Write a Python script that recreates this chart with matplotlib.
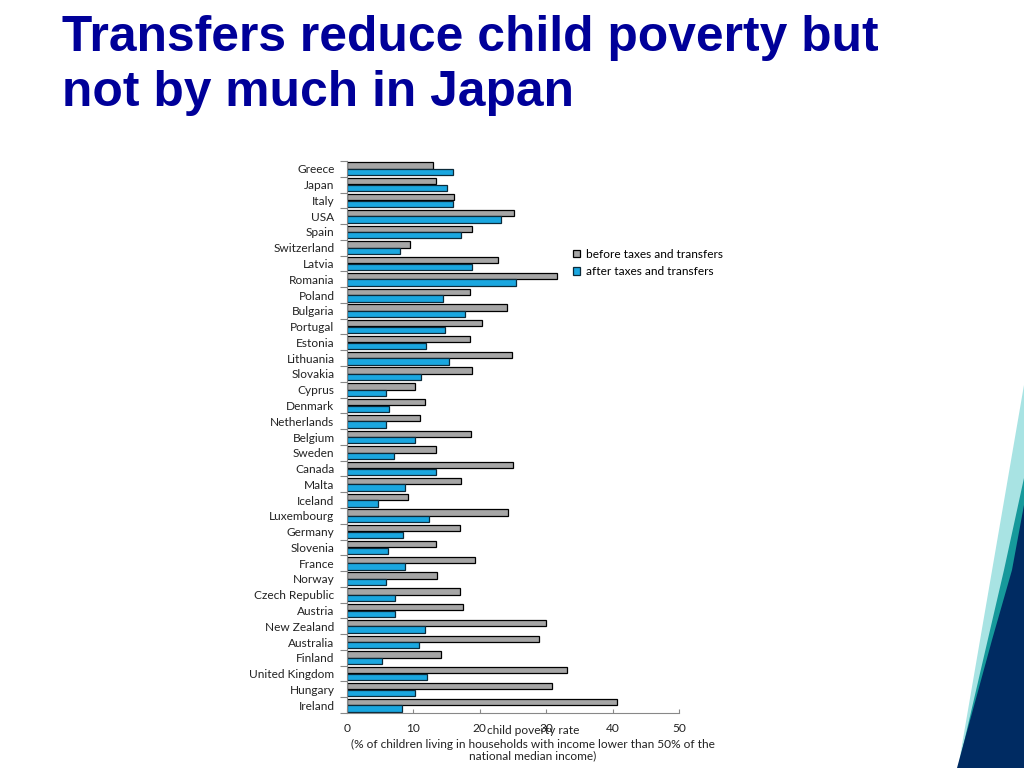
import matplotlib.pyplot as plt
from matplotlib.patches import Polygon
import numpy as np

countries = ['Greece', 'Japan', 'Italy', 'USA', 'Spain', 'Switzerland', 'Latvia',
             'Romania', 'Poland', 'Bulgaria', 'Portugal', 'Estonia', 'Lithuania',
             'Slovakia', 'Cyprus', 'Denmark', 'Netherlands', 'Belgium', 'Sweden',
             'Canada', 'Malta', 'Iceland', 'Luxembourg', 'Germany', 'Slovenia',
             'France', 'Norway', 'Czech Republic', 'Austria', 'New Zealand',
             'Australia', 'Finland', 'United Kingdom', 'Hungary', 'Ireland']
before = [13.0, 13.4, 16.1, 25.2, 18.9, 9.5, 22.7, 31.7, 18.5, 24.1, 20.4, 18.5,
          24.8, 18.9, 10.2, 11.7, 11.0, 18.7, 13.4, 25.0, 17.1, 9.2, 24.3, 17.0,
          13.4, 19.3, 13.5, 17.0, 17.4, 29.9, 28.9, 14.2, 33.2, 30.9, 40.7]
after = [16.0, 15.0, 16.0, 23.2, 17.1, 8.0, 18.9, 25.5, 14.5, 17.7, 14.8, 11.9,
         15.4, 11.1, 5.9, 6.4, 5.9, 10.3, 7.1, 13.4, 8.7, 4.6, 12.3, 8.4,
         6.2, 8.8, 5.9, 7.2, 7.2, 11.7, 10.8, 5.2, 12.1, 10.3, 8.3]
xticks = [0, 10, 20, 30, 40, 50]

font = 'Lato'
fs = 8.6
tc = '#222222'
fig = plt.figure(figsize=(10.24, 7.68), dpi=100)
fig.patch.set_facecolor('white')

# title
navy = '#000099'
fig.text(62/1024, 1-51/768, 'Transfers reduce child poverty but', fontsize=35.8,
         fontweight='bold', color=navy, family='Liberation Sans', va='baseline')
fig.text(62/1024, 1-106/768, 'not by much in Japan', fontsize=35.8,
         fontweight='bold', color=navy, family='Liberation Sans', va='baseline')

ax = fig.add_axes([347/1024, 1-713/768, 332/1024, 552/768])
y = np.arange(len(countries))
h = 0.4
ax.barh(y - 0.21, before, height=h, color='#A6A6A6', edgecolor='black',
        linewidth=0.9, label='before taxes and transfers')
ax.barh(y + 0.21, after, height=h, color='#1AA7E0', edgecolor='#0b2a3a',
        linewidth=0.9, label='after taxes and transfers')
ax.set_ylim(len(countries) - 0.5, -0.5)
ax.set_xlim(0, 50)
ax.set_yticks(y)
ax.set_yticklabels(countries, family=font, fontsize=fs, color=tc)
ax.set_yticks(np.arange(len(countries) + 1) - 0.5, minor=True)
ax.tick_params(axis='y', which='major', length=0, pad=9)
ax.tick_params(axis='y', which='minor', length=5, color='#888888', width=0.8)
ax.set_xticks(xticks)
ax.set_xticklabels([str(t) for t in xticks], family=font, fontsize=fs, color=tc)
ax.tick_params(axis='x', length=3, direction='in', color='#888888', pad=7)
for s in ['top', 'right']:
    ax.spines[s].set_visible(False)
for s in ['left', 'bottom']:
    ax.spines[s].set_color('#888888')
    ax.spines[s].set_linewidth(0.8)

fig.text(533/1024, 1-731/768, 'child poverty rate', ha='center', va='center',
         family=font, fontsize=fs, color=tc)
fig.text(533/1024, 1-744/768,
         '(% of children living in households with income lower than 50% of the',
         ha='center', va='center', family=font, fontsize=fs, color=tc)
fig.text(533/1024, 1-756/768, 'national median income)', ha='center', va='center',
         family=font, fontsize=fs, color=tc)

ax.legend(loc='upper left', bbox_to_anchor=(562/1024, 1-238/768),
          bbox_transform=fig.transFigure, frameon=False, prop={'family': font, 'size': fs},
          handlelength=0.6, handleheight=0.6, handletextpad=0.5, labelspacing=0.55)

# slide decoration on the right edge
W, H = 1024, 768
def poly(pts, c):
    fig.patches.append(Polygon([(px/W, 1-py/H) for px, py in pts], closed=True,
                               transform=fig.transFigure, facecolor=c, edgecolor='none'))
poly([(1024, 385), (1024, 768), (958, 768)], '#A8E3E3')
poly([(1024, 478), (1024, 768), (958, 768), (1004, 570)], '#16999B')
poly([(1024, 505), (1024, 768), (957, 768), (992, 640), (1012, 570)], '#002B62')

fig.savefig('out.png', dpi=100)
